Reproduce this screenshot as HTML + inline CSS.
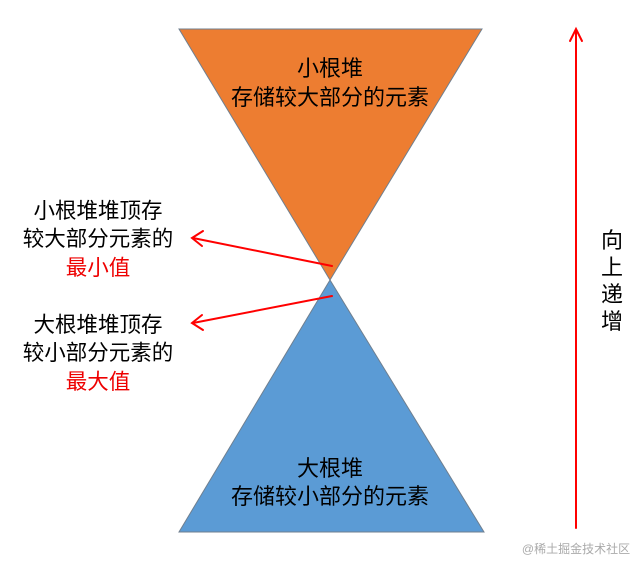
<!DOCTYPE html>
<html><head><meta charset="utf-8"><style>
body{margin:0;background:#fff;width:640px;height:561px;overflow:hidden;}
svg text{font-family:"Liberation Sans","Noto Sans CJK SC",sans-serif;font-size:22px;}
</style></head><body>
<svg width="640" height="561" viewBox="0 0 640 561" xmlns="http://www.w3.org/2000/svg">
<polygon points="179,29 482,29 330,280" fill="#ED7D31" stroke="#6f7f8f" stroke-width="1"/>
<polygon points="330,280 179,532 484,532" fill="#5B9BD5" stroke="#6f7f8f" stroke-width="1"/>
<g fill="#000" text-anchor="middle">
<text x="330" y="76">小根堆</text>
<text x="330" y="105">存储较大部分的元素</text>
<text x="330" y="476">大根堆</text>
<text x="330" y="504">存储较小部分的元素</text>
<text x="98" y="218" style="font-size:21.5px">小根堆堆顶存</text>
<text x="98" y="246" style="font-size:21.5px">较大部分元素的</text>
<text x="98" y="275" style="font-size:21.5px" fill="#e00">最小值</text>
<text x="98" y="332" style="font-size:21.5px">大根堆堆顶存</text>
<text x="98" y="360" style="font-size:21.5px">较小部分元素的</text>
<text x="98" y="389" style="font-size:21.5px" fill="#e00">最大值</text>
<text x="612" y="248">向</text>
<text x="612" y="275">上</text>
<text x="612" y="302">递</text>
<text x="612" y="329">增</text>
</g>
<g stroke="#f00" stroke-width="2" fill="none" stroke-linecap="round">
<line x1="332" y1="266" x2="193" y2="238"/>
<polyline points="203,231 192,238 202,246"/>
<line x1="332" y1="296" x2="193" y2="323"/>
<polyline points="202,315 192,323 203,330"/>
<line x1="576" y1="528" x2="576" y2="30"/>
<polyline points="570,41 576,29 582,41"/>
</g>
<text x="576" y="553" text-anchor="middle" style="font-size:12px" fill="#aaa">@稀土掘金技术社区</text>
</svg>
</body></html>
